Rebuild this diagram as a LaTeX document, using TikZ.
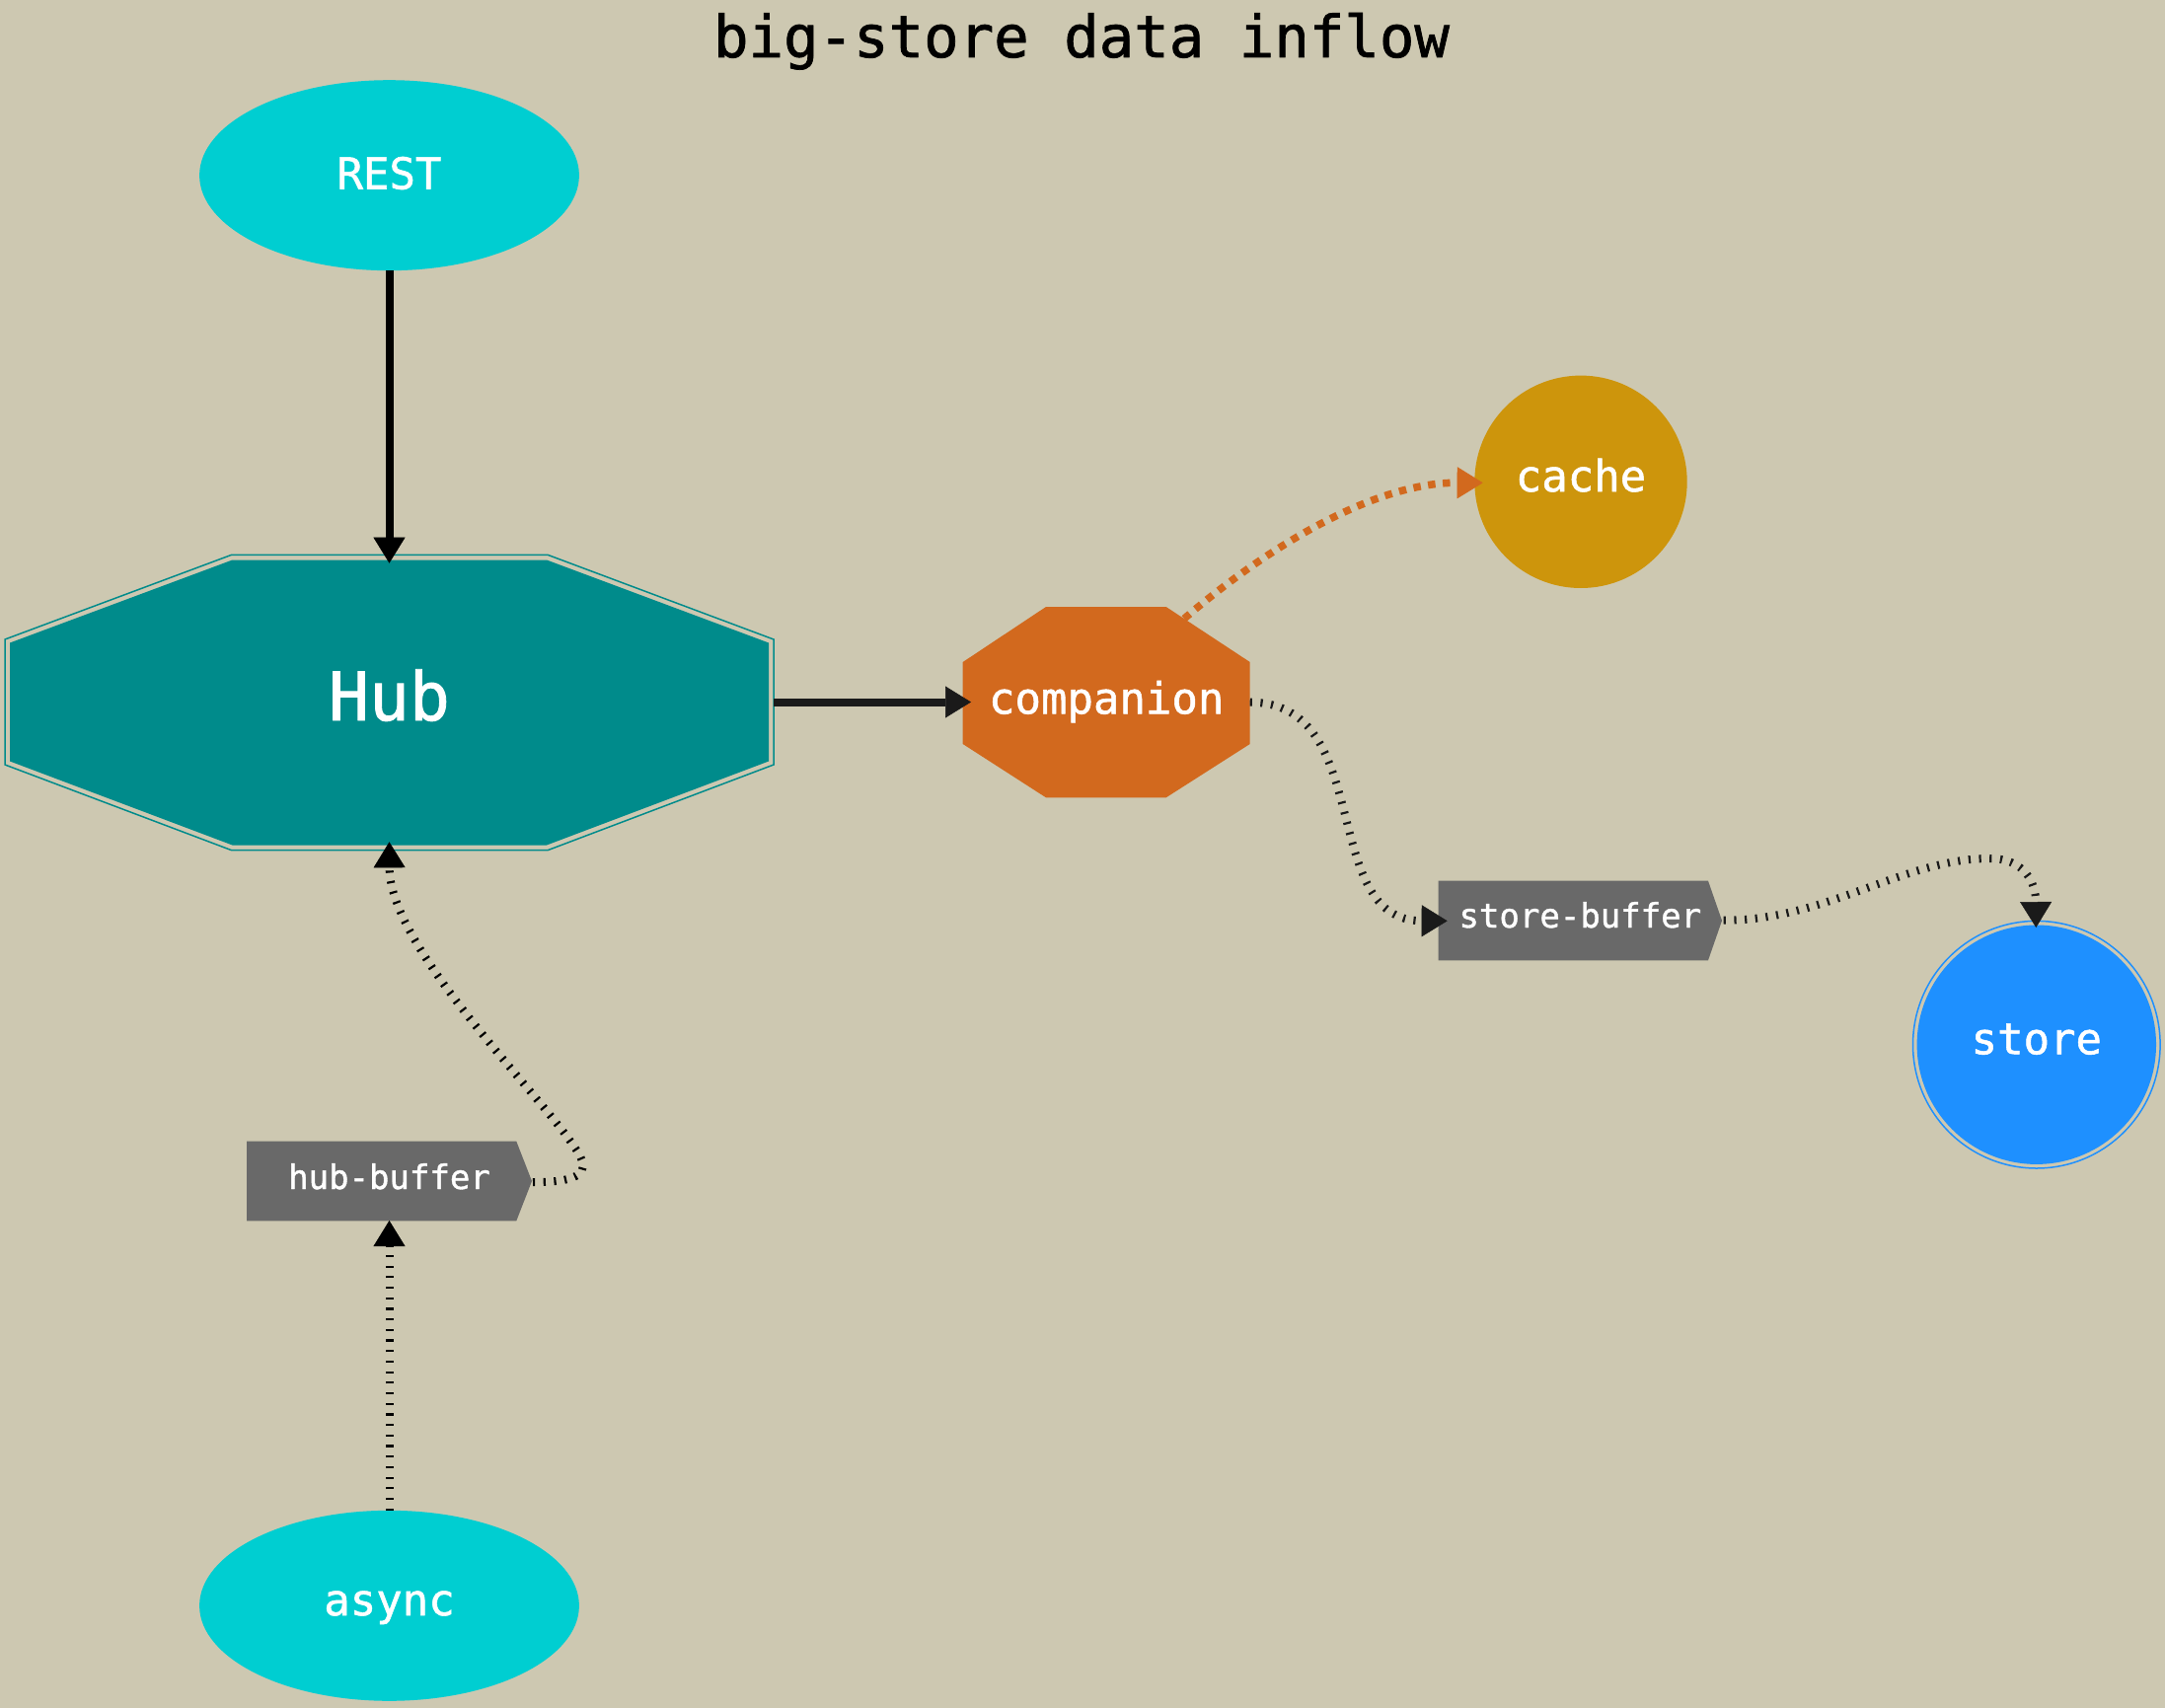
\documentclass[tikz,border=0pt]{standalone}
\usepackage{fontspec}
\setmonofont{DejaVu Sans Mono}
\newfontfamily\labelfont[FakeBold=1.2]{DejaVu Sans Mono}
\usetikzlibrary{arrows.meta,shapes.geometric}
\definecolor{bg}{HTML}{CDC8B1}
\definecolor{turq}{HTML}{00CED1}
\definecolor{hubc}{HTML}{008B8B}
\definecolor{choc}{HTML}{D2691E}
\definecolor{gold}{HTML}{CD950C}
\definecolor{dgray}{HTML}{696969}
\definecolor{dodger}{HTML}{1E90FF}
\definecolor{ink}{HTML}{1A1A1A}
\tikzset{
  lbl/.style={text=white, anchor=base, inner sep=0pt},
  big/.style={font=\labelfont\fontsize{44}{50}\selectfont},
  small/.style={font=\labelfont\fontsize{34}{40}\selectfont},
  tip/.style={-{Triangle[length=26pt,width=32pt,line width=0.5pt]}},
  solidedge/.style={tip, line width=8pt},
  dotedge/.style={tip, line width=8pt, dash pattern=on 2.2pt off 8.5pt},
  orangeedge/.style={tip, line width=7.5pt, color=choc, dash pattern=on 7.5pt off 7.5pt},
  shapenode/.style={inner sep=0pt, outer sep=0pt}
}
\begin{document}
\begin{tikzpicture}[x=1pt,y=-1pt]
\fill[bg] (0,0) rectangle (2194,1731);
\useasboundingbox (0,0) rectangle (2194,1731);

% title
\node[anchor=base, inner sep=0pt, font=\labelfont\fontsize{59}{66}\selectfont] (title) at (1096,58) {big-store data inflow};

% REST
\node[shapenode, ellipse, fill=turq, minimum width=384.8pt, minimum height=193pt] (REST) at (394.5,177.7) {};
\node[lbl, big] (RESTt) at (394.5,191.5) {REST};

% Hub (double octagon)
\draw[hubc, line width=1.5pt] (234.7,562.3) -- (555,562.3) -- (784,648) -- (784,775) -- (555,861.7) -- (234.7,861.7) -- (5,775) -- (5,648) -- cycle;
\fill[hubc] (235.5,567.5) -- (554,567.5) -- (779,651.5) -- (779,771.5) -- (554,856.5) -- (235.5,856.5) -- (10,771.5) -- (10,651.5) -- cycle;
\node[shapenode, minimum width=779pt, minimum height=299pt] (Hub) at (394.5,712) {};
\node[lbl, font=\labelfont\fontsize{68}{76}\selectfont] (Hubt) at (394.5,730) {Hub};
\coordinate (HubN) at (394.5,570.7);
\coordinate (HubS) at (394.5,853.3);
\coordinate (HubE) at (784,711.5);

% companion
\fill[choc] (1060,615) -- (1181.7,615) -- (1266.7,671) -- (1266.7,754) -- (1181.7,808.3) -- (1060,808.3) -- (975.7,754) -- (975.7,671) -- cycle;
\node[shapenode, minimum width=291pt, minimum height=193pt] (companion) at (1121.2,711.6) {};
\node[lbl, big] (companiont) at (1121.2,723.3) {companion};
\coordinate (compW) at (984,711.5);
\coordinate (compE) at (1266.7,711.7);
\coordinate (compNE) at (1200,627);

% cache
\node[shapenode, circle, fill=gold, minimum size=215.4pt] (cache) at (1602,488.3) {};
\node[lbl, big] (cachet) at (1602,498) {cache};
\coordinate (cacheW) at (1502.7,489.3);

% store-buffer
\fill[dgray] (1457.7,892.7) -- (1731,892.7) -- (1745,933) -- (1731,973.3) -- (1457.7,973.3) -- cycle;
\node[shapenode, minimum width=287pt, minimum height=80.6pt] (sbuf) at (1601.3,933) {};
\node[lbl, small] (sbuft) at (1601.3,940) {store-buffer};
\coordinate (sbufW) at (1466.7,933.3);
\coordinate (sbufE) at (1746.7,932.7);

% store (double circle)
\node[shapenode, circle, fill=dodger, minimum size=242.4pt] (store) at (2063.8,1058.7) {};
\draw[dodger, line width=1.5pt] (store.center) circle (125.3);
\node[lbl, big] (storet) at (2063.8,1068.3) {store};
\coordinate (storeN) at (2063.3,940);

% hub-buffer
\fill[dgray] (250,1156.7) -- (523.3,1156.7) -- (539,1197) -- (523.3,1237.3) -- (250,1237.3) -- cycle;
\node[shapenode, minimum width=289pt, minimum height=80.6pt] (hbuf) at (394.5,1197) {};
\node[lbl, small] (hbuft) at (394.5,1205) {hub-buffer};
\coordinate (hbufE) at (540,1198);
\coordinate (hbufS) at (394.5,1237);

% async
\node[shapenode, ellipse, fill=turq, minimum width=384.8pt, minimum height=193pt] (async) at (394.5,1627.3) {};
\node[lbl, big] (asynct) at (394.5,1637) {async};

% edges
\draw[solidedge, black] (REST.south) -- (HubN);
\draw[solidedge, ink] (HubE) -- (compW);
\draw[orangeedge] (compNE) .. controls (1280,558) and (1390,489) .. (cacheW);
\draw[dotedge, ink] (compE) .. controls (1395,712) and (1335,933) .. (sbufW);
\draw[dotedge, ink] (sbufE) .. controls (1850,933) and (1930,870) .. (2016,870) .. controls (2052,870) and (2063,895) .. (storeN);
\draw[dotedge, black] (hbufE) .. controls (570,1198) and (600,1195) .. (588,1172) .. controls (560,1120) and (395,965) .. (HubS);
\draw[dotedge, black] (async.north) -- (hbufS);
\end{tikzpicture}
\end{document}
